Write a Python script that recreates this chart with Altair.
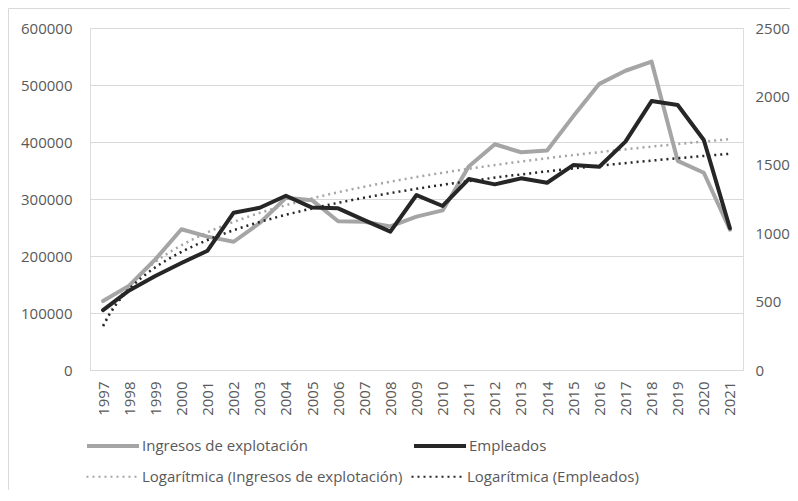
import altair as alt
import pandas as pd

years = ["1997", "1998", "1999", "2000", "2001", "2002", "2003", "2004", "2005",
         "2006", "2007", "2008", "2009", "2010", "2011", "2012", "2013", "2014",
         "2015", "2016", "2017", "2018", "2019", "2020", "2021"]
ingresos = [121000, 148000, 194000, 247000, 234000, 225000, 258000, 302000, 298000,
            261000, 260000, 252000, 269000, 280000, 357000, 396000, 382000, 385000,
            445000, 502000, 525000, 541000, 367000, 346000, 246000]
empleados = [438, 582, 687, 782, 872, 1150, 1186, 1274, 1187,
             1182, 1096, 1011, 1279, 1199, 1396, 1357, 1401, 1369,
             1498, 1486, 1669, 1966, 1937, 1681, 1036]

left_ticks = [0, 100000, 200000, 300000, 400000, 500000, 600000]
right_ticks = [0, 500, 1000, 1500, 2000, 2500]

s_ing = "Ingresos de explotación"
s_emp = "Empleados"
t_ing = "Logarítmica (Ingresos de explotación)"
t_emp = "Logarítmica (Empleados)"

df = pd.DataFrame({"t": list(range(1, len(years) + 1)),
                   "ingresos": ingresos, "empleados": empleados})

GRAY = "#a5a5a5"
DARK = "#262626"
LABEL = "#595959"
FONT = "Open Sans"

label_expr = "[" + ",".join("'%s'" % y for y in years) + "][datum.value - 1]"

X = alt.X("t:Q",
          scale=alt.Scale(domain=[0.5, len(years) + 0.5], nice=False, zero=False),
          axis=alt.Axis(values=list(range(1, len(years) + 1)), labelExpr=label_expr,
                        labelAngle=270, grid=False, domain=False, ticks=False,
                        labelPadding=11, labelColor=LABEL, labelFontSize=15,
                        labelFont=FONT, title=None))

left_axis = alt.Axis(values=left_ticks, format="d", orient="left", grid=True,
                     gridColor="#d9d9d9", gridWidth=1, domain=False, ticks=False,
                     labelPadding=18, labelColor=LABEL, labelFontSize=15,
                     labelFont=FONT, title=None)
right_axis = alt.Axis(values=right_ticks, format="d", orient="right", grid=False,
                      domain=False, ticks=False, labelPadding=12, labelColor=LABEL,
                      labelFontSize=15, labelFont=FONT, title=None)

y_left = alt.Scale(domain=[0, 600000], nice=False)
y_right = alt.Scale(domain=[0, 2500], nice=False)

color_scale = alt.Scale(domain=[s_ing, s_emp], range=[GRAY, DARK])
stroke_scale = alt.Scale(domain=[t_ing, t_emp], range=[GRAY, DARK])

legA = alt.Legend(orient="none", legendX=-5, legendY=390, direction="horizontal",
                  columns=2, columnPadding=98, symbolType="stroke", symbolSize=2704,
                  symbolStrokeWidth=4, labelFontSize=15, labelColor=LABEL,
                  labelFont=FONT, labelOffset=1, labelLimit=400, title=None)
legB = alt.Legend(orient="none", legendX=-5, legendY=421, direction="horizontal",
                  columns=2, columnPadding=4, symbolType="stroke", symbolSize=2704,
                  symbolStrokeWidth=2.2, symbolDash=[2, 4], labelFontSize=15,
                  labelColor=LABEL, labelFont=FONT, labelOffset=2, labelLimit=400,
                  title=None)

base = alt.Chart(df)

gray_line = base.transform_calculate(serie="'%s'" % s_ing).mark_line(
    strokeWidth=4, strokeJoin="round", strokeCap="round").encode(
    x=X, y=alt.Y("ingresos:Q", scale=y_left, axis=left_axis),
    color=alt.Color("serie:N", scale=color_scale, legend=legA))

gray_trend = base.transform_regression("t", "ingresos", method="log").transform_calculate(
    tend="'%s'" % t_ing).mark_line(strokeWidth=2.5, strokeDash=[2, 4]).encode(
    x=X, y=alt.Y("ingresos:Q", scale=y_left, axis=left_axis),
    stroke=alt.Stroke("tend:N", scale=stroke_scale, legend=legB))

dark_line = base.transform_calculate(serie="'%s'" % s_emp).mark_line(
    strokeWidth=4, strokeJoin="round", strokeCap="round").encode(
    x=X, y=alt.Y("empleados:Q", scale=y_right, axis=right_axis),
    color=alt.Color("serie:N", scale=color_scale, legend=legA))

dark_trend = base.transform_regression("t", "empleados", method="log").transform_calculate(
    tend="'%s'" % t_emp).mark_line(strokeWidth=2.5, strokeDash=[2, 4]).encode(
    x=X, y=alt.Y("empleados:Q", scale=y_right, axis=right_axis),
    stroke=alt.Stroke("tend:N", scale=stroke_scale, legend=legB))

left = alt.layer(gray_line, gray_trend)
right = alt.layer(dark_line, dark_trend)

frame = alt.Chart(pd.DataFrame({"f": [0]})).mark_rect(
    fill=None, stroke="#d9d9d9", strokeWidth=1).encode(
    x=alt.value(-81.5), x2=alt.value(1200), y=alt.value(-19.5), y2=alt.value(1200))

chart = alt.layer(left, right, frame).resolve_scale(y="independent").properties(
    width=653, height=342,
    autosize=alt.AutoSizeParams(type="none"),
    padding={"left": 82, "top": 20, "right": 47, "bottom": 120},
).configure_view(stroke=None).configure(font=FONT)

chart.save("out.html", embed_options={"renderer": "svg", "actions": False})
